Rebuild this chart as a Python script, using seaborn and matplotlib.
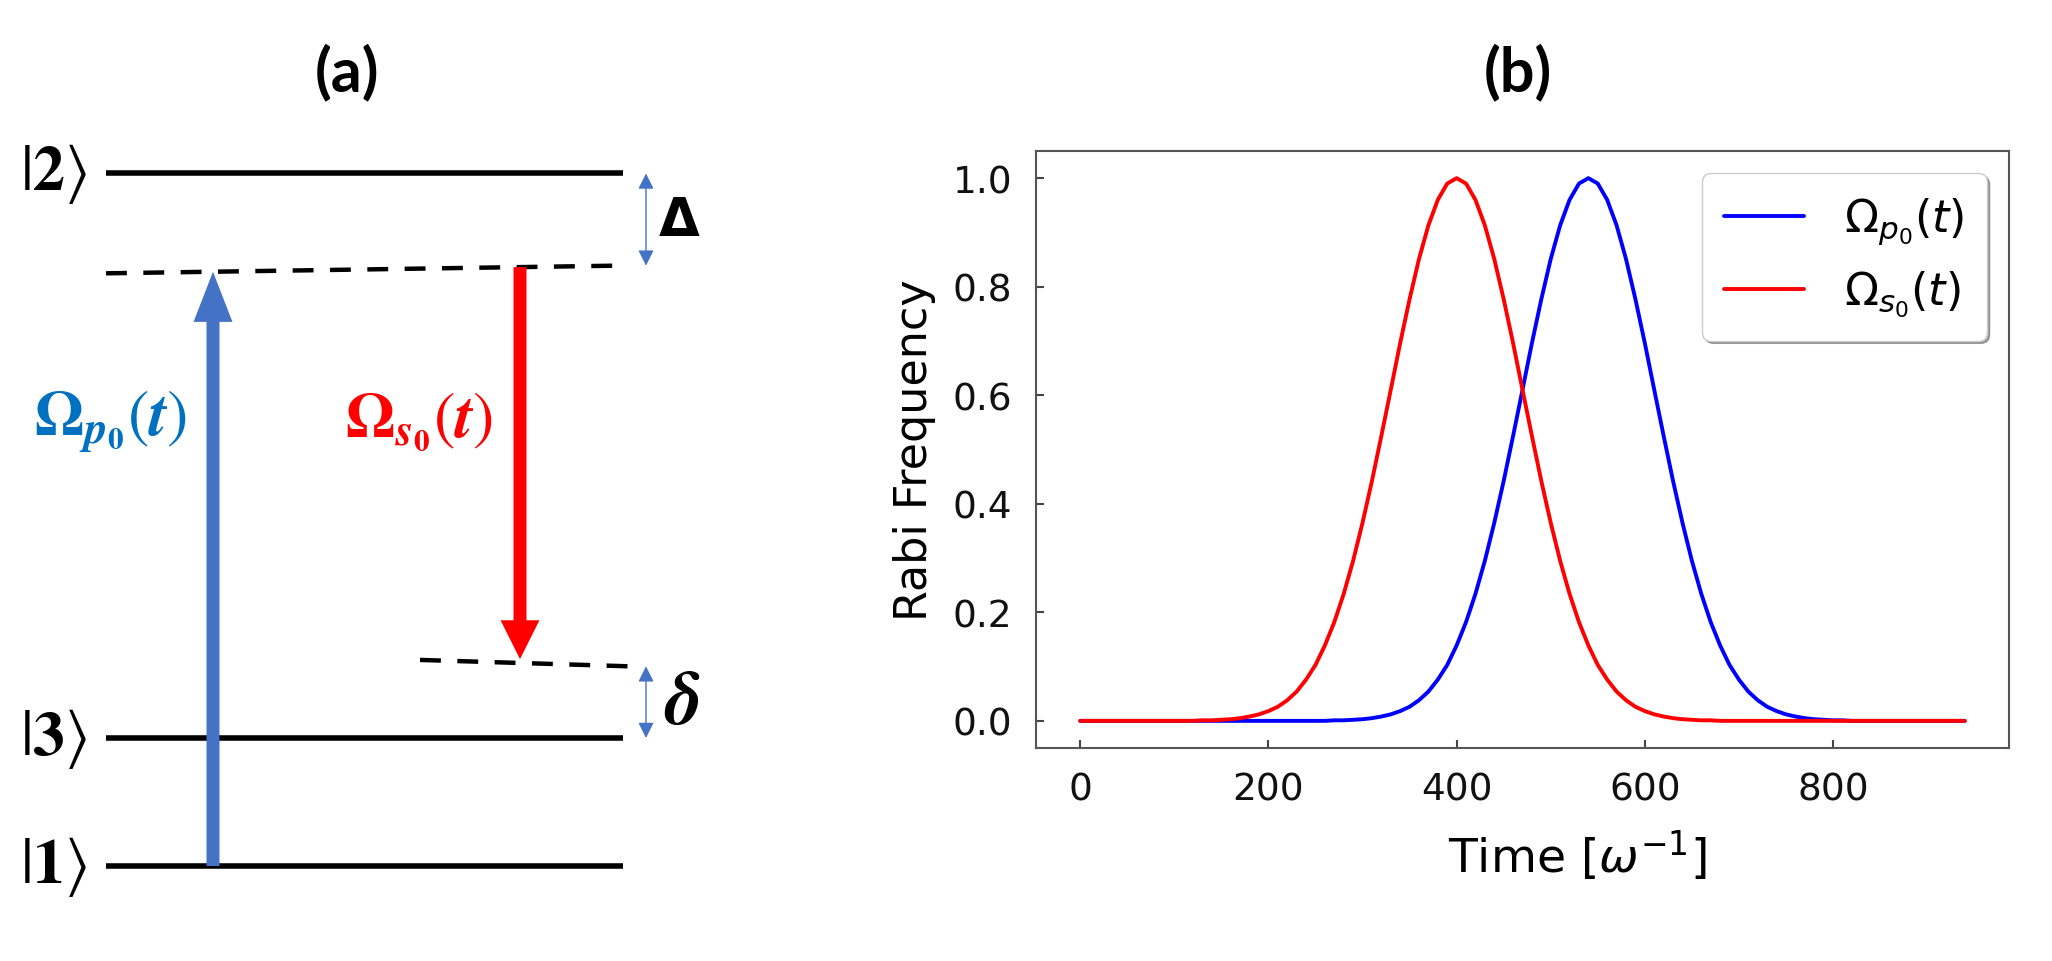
import numpy as np
import pandas as pd
import matplotlib
matplotlib.use('Agg')
import matplotlib.pyplot as plt
from matplotlib.patches import FancyArrowPatch
import seaborn as sns

# ===============================
# DATA
# ===============================
# panel (b): pulse envelopes (step of 10 in time)
time = [0, 10, 20, 30, 40, 50, 60, 70, 80, 90,
        100, 110, 120, 130, 140, 150, 160, 170, 180, 190,
        200, 210, 220, 230, 240, 250, 260, 270, 280, 290,
        300, 310, 320, 330, 340, 350, 360, 370, 380, 390,
        400, 410, 420, 430, 440, 450, 460, 470, 480, 490,
        500, 510, 520, 530, 540, 550, 560, 570, 580, 590,
        600, 610, 620, 630, 640, 650, 660, 670, 680, 690,
        700, 710, 720, 730, 740, 750, 760, 770, 780, 790,
        800, 810, 820, 830, 840, 850, 860, 870, 880, 890,
        900, 910, 920, 930, 940]

omega_p = [0, 0, 0, 0, 0, 0, 0, 0, 0, 0,
           0, 0, 0, 0, 0, 0, 0, 0, 0, 0,
           0, 0, 0, 0, 0, 0, 0, 0.001, 0.001, 0.002,
           0.003, 0.005, 0.008, 0.012, 0.018, 0.026, 0.038, 0.054, 0.076, 0.103,
           0.139, 0.182, 0.234, 0.295, 0.365, 0.442, 0.525, 0.610, 0.696, 0.777,
           0.851, 0.913, 0.960, 0.990, 1.000, 0.990, 0.960, 0.913, 0.851, 0.777,
           0.696, 0.610, 0.525, 0.442, 0.365, 0.295, 0.234, 0.182, 0.139, 0.103,
           0.076, 0.054, 0.038, 0.026, 0.018, 0.012, 0.008, 0.005, 0.003, 0.002,
           0.001, 0.001, 0, 0, 0, 0, 0, 0, 0, 0,
           0, 0, 0, 0, 0]

omega_s = [0, 0, 0, 0, 0, 0, 0, 0, 0, 0,
           0, 0, 0, 0.001, 0.001, 0.002, 0.003, 0.005, 0.008, 0.012,
           0.018, 0.026, 0.038, 0.054, 0.076, 0.103, 0.139, 0.182, 0.234, 0.295,
           0.365, 0.442, 0.525, 0.610, 0.696, 0.777, 0.851, 0.913, 0.960, 0.990,
           1.000, 0.990, 0.960, 0.913, 0.851, 0.777, 0.696, 0.610, 0.525, 0.442,
           0.365, 0.295, 0.234, 0.182, 0.139, 0.103, 0.076, 0.054, 0.038, 0.026,
           0.018, 0.012, 0.008, 0.005, 0.003, 0.002, 0.001, 0.001, 0, 0,
           0, 0, 0, 0, 0, 0, 0, 0, 0, 0,
           0, 0, 0, 0, 0, 0, 0, 0, 0, 0,
           0, 0, 0, 0, 0]

pulse_labels = [r'$\Omega_{p_0}(t)$', r'$\Omega_{s_0}(t)$']
pulse_colors = ['blue', 'red']

# panel (a): level scheme, energies in units of the |1>-|3> splitting
level_names = [r'$|\mathbf{1}\rangle$', r'$|\mathbf{3}\rangle$', r'$|\mathbf{2}\rangle$']
level_energy = [0.0, 1.0, 5.41]
virtual_upper = [4.63, 4.69]   # left / right end of the dashed level
virtual_lower = [1.61, 1.56]

# ===============================
# STYLE / FIGURE
# ===============================
sns.set_theme(style='ticks')
plt.rcParams['font.family'] = ['DejaVu Sans']
plt.rcParams['text.color'] = 'black'
plt.rcParams['axes.labelcolor'] = 'black'
plt.rcParams['xtick.labelcolor'] = '#111111'
plt.rcParams['ytick.labelcolor'] = '#111111'

fig = plt.figure(figsize=(20.52, 9.62), dpi=100)

# ===============================
# (a) LEVEL DIAGRAM
# ===============================
ax_a = fig.add_axes([0, 0, 862 / 2052, 1])
ax_a.set_xlim(0, 862)
ax_a.set_ylim(-0.742, 6.773)
ax_a.axis('off')

x_lev = (106, 623)
x_up = (106, 617)
x_low = (420, 629)
x_pump, x_stokes, x_det = 213, 520, 646

for name, e in zip(level_names, level_energy):
    ax_a.plot(x_lev, [e, e], color='black', lw=4.0, solid_capstyle='butt', zorder=2)
    ax_a.text(54, e, name, ha='center', va='center', fontsize=46,
              math_fontfamily='stix', color='black')

ax_a.plot(x_up, virtual_upper, color='black', lw=3.2, dashes=(4.7, 3.7), zorder=2)
ax_a.plot(x_low, virtual_lower, color='black', lw=3.2, dashes=(4.7, 3.7), zorder=2)

# pump arrow |1> -> upper virtual level
tip_p = np.interp(x_pump, x_up, virtual_upper)
ax_a.add_patch(FancyArrowPatch(
    (x_pump, level_energy[0]), (x_pump, tip_p),
    arrowstyle='simple,head_length=1.29,head_width=1.0,tail_width=0.334',
    mutation_scale=28, color='#4472C4', lw=0, shrinkA=0, shrinkB=0, zorder=3))

# stokes arrow upper virtual -> lower virtual level
top_s = np.interp(x_stokes, x_up, virtual_upper)
tip_s = np.interp(x_stokes, x_low, virtual_lower)
ax_a.add_patch(FancyArrowPatch(
    (x_stokes, top_s), (x_stokes, tip_s + 0.03),
    arrowstyle='simple,head_length=1.0,head_width=1.0,tail_width=0.334',
    mutation_scale=28, color='#FF0000', lw=0, shrinkA=0, shrinkB=0, zorder=3))

ax_a.text(110, 3.48, r'$\mathbf{\Omega}_{\mathbfit{p}_{\mathbf{0}}}(\mathbfit{t})$',
          ha='center', va='center', fontsize=46, color='#0070C0',
          math_fontfamily='stix')
ax_a.text(419, 3.48, r'$\mathbf{\Omega}_{\mathbfit{s}_{\mathbf{0}}}(\mathbfit{t})$',
          ha='center', va='center', fontsize=46, color='#FF0000',
          math_fontfamily='stix')

# detunings
det_up = (level_energy[2], virtual_upper[1])
det_low = (virtual_lower[1], level_energy[1])
for lo, hi in [det_up, det_low]:
    ax_a.add_patch(FancyArrowPatch(
        (x_det, hi), (x_det, lo),
        arrowstyle='<|-|>,head_length=0.52,head_width=0.26',
        mutation_scale=18, color='#4472C4', lw=1.0, shrinkA=0, shrinkB=0))

ax_a.text(679, np.mean(det_up), 'Δ', ha='center', va='center',
          fontsize=38, fontweight='bold', color='black')
ax_a.text(682, np.mean(det_low), r'$\mathbfit{\delta}$', ha='center', va='center',
          fontsize=54, color='black', math_fontfamily='stix')

# ===============================
# (b) RABI FREQUENCIES
# ===============================
ax_b = fig.add_axes([1036 / 2052, (962 - 749) / 962, 973 / 2052, 597 / 962])

df = pd.DataFrame({
    'time': time + time,
    'rabi': omega_p + omega_s,
    'pulse': [pulse_labels[0]] * len(time) + [pulse_labels[1]] * len(time),
})
sns.lineplot(data=df, x='time', y='rabi', hue='pulse', hue_order=pulse_labels,
             palette=pulse_colors, linewidth=2.8, ax=ax_b)

handles, labels = ax_b.get_legend_handles_labels()
ax_b.legend(handles, labels, loc='upper right', fontsize=32, frameon=True,
            shadow=True, fancybox=True, edgecolor='0.8', framealpha=1,
            handlelength=1.8, handletextpad=0.9, borderpad=0.5)

ax_b.set_xlabel(r'Time $[\omega^{-1}]$', fontsize=34, x=0.556, labelpad=14)
ax_b.set_ylabel('Rabi Frequency', fontsize=32, labelpad=12)
ax_b.tick_params(direction='in', length=6, width=1.5, labelsize=27, pad=17,
                 color='#444444')
for sp in ax_b.spines.values():
    sp.set_color('#555555')
    sp.set_linewidth(1.5)

# ===============================
# PANEL TITLES
# ===============================
fig.text(347 / 2052, 1 - 72 / 962, '(a)', ha='center', va='center',
         fontsize=44, fontweight='bold', family='Lato')
fig.text(1518 / 2052, 1 - 72 / 962, '(b)', ha='center', va='center',
         fontsize=44, fontweight='bold', family='Lato')

fig.savefig('out.png', dpi=100)
plt.close(fig)
